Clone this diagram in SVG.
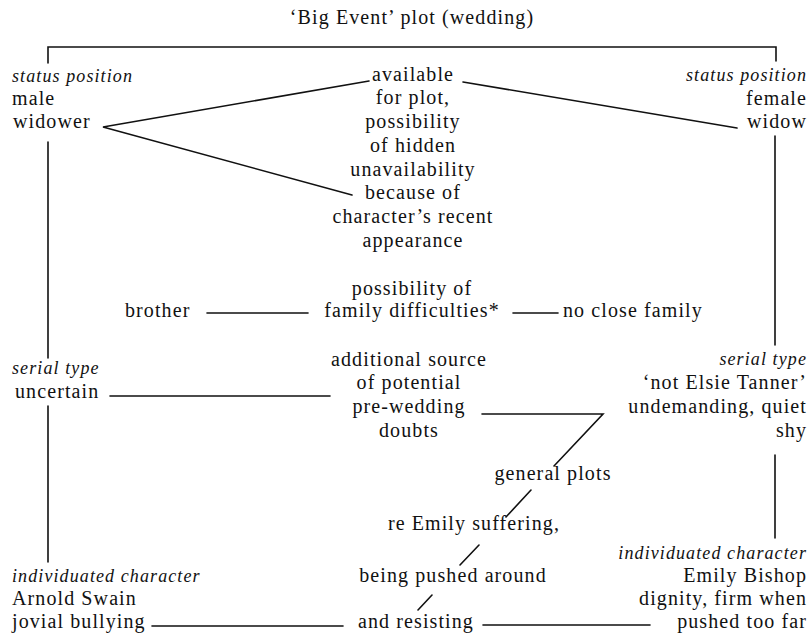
<svg xmlns="http://www.w3.org/2000/svg" width="811" height="639" viewBox="0 0 811 639">
<style>
text{font-family:"Liberation Serif","Times New Roman",serif;font-size:20px;letter-spacing:1.1px;fill:#111}
.c{text-anchor:middle}
.r{text-anchor:end}
.i{font-style:italic;font-size:18px;letter-spacing:1.1px}
.ln{fill:none;stroke:#111;stroke-width:1.6;stroke-linecap:round;stroke-linejoin:miter}
</style>
<rect width="811" height="639" fill="#fff"/>
<g id="title"><text class="c" x="412" y="24">‘Big Event’ plot (wedding)</text></g>
<g id="male-status">
<text class="i" x="12" y="82">status position</text>
<text x="12" y="105">male</text>
<text x="13" y="128">widower</text>
</g>
<g id="female-status">
<text class="i r" x="807" y="81">status position</text>
<text class="r" x="807" y="105">female</text>
<text class="r" x="807" y="128">widow</text>
</g>
<g id="availability">
<text class="c" x="413" y="81">available</text>
<text class="c" x="413" y="104">for plot,</text>
<text class="c" x="413" y="128">possibility</text>
<text class="c" x="413" y="152">of hidden</text>
<text class="c" x="413" y="176">unavailability</text>
<text class="c" x="413" y="199">because of</text>
<text class="c" x="413" y="223">character’s recent</text>
<text class="c" x="413" y="247">appearance</text>
</g>
<g id="brother"><text x="125" y="317">brother</text></g>
<g id="family"><text class="c" x="412" y="295">possibility of</text><text class="c" x="412" y="317">family difficulties*</text></g>
<g id="no-family"><text x="563" y="317">no close family</text></g>
<g id="male-serial">
<text class="i" x="12" y="374">serial type</text>
<text x="15" y="398">uncertain</text>
</g>
<g id="doubts">
<text class="c" x="409" y="366">additional source</text>
<text class="c" x="409" y="389">of potential</text>
<text class="c" x="409" y="413">pre-wedding</text>
<text class="c" x="409" y="437">doubts</text>
</g>
<g id="female-serial">
<text class="i r" x="807" y="365">serial type</text>
<text class="r" x="807" y="389">‘not Elsie Tanner’</text>
<text class="r" x="807" y="413">undemanding, quiet</text>
<text class="r" x="807" y="437">shy</text>
</g>
<g id="general-plots">
<text class="c" x="553" y="480">general plots</text>
<text class="c" x="474" y="530">re Emily suffering,</text>
<text class="c" x="453" y="582">being pushed around</text>
<text class="c" x="416" y="628">and resisting</text>
</g>
<g id="arnold">
<text class="i" x="12" y="582">individuated character</text>
<text x="12" y="605">Arnold Swain</text>
<text x="12" y="628">jovial bullying</text>
</g>
<g id="emily">
<text class="i r" x="807" y="559">individuated character</text>
<text class="r" x="807" y="582">Emily Bishop</text>
<text class="r" x="807" y="605">dignity, firm when</text>
<text class="r" x="807" y="628">pushed too far</text>
</g>
<g id="connectors">
<path class="ln" d="M48,63 V47 H776 V61"/>
<path class="ln" d="M369,81 L103,127 L352,195"/>
<path class="ln" d="M463,82 L737,128"/>
<path class="ln" d="M48,142 V358 M48,406 V562"/>
<path class="ln" d="M775,136 V345 M775,455 V538"/>
<path class="ln" d="M207,313 H308"/>
<path class="ln" d="M513,313 H558"/>
<path class="ln" d="M110,396 H330"/>
<path class="ln" d="M482,414 H603 L554,466"/>
<path class="ln" d="M531,490 L506,517 M479,545 L460,565 M432,595 L418,610"/>
<path class="ln" d="M152,626 H343"/>
<path class="ln" d="M483,625 H650"/>
</g>
</svg>
